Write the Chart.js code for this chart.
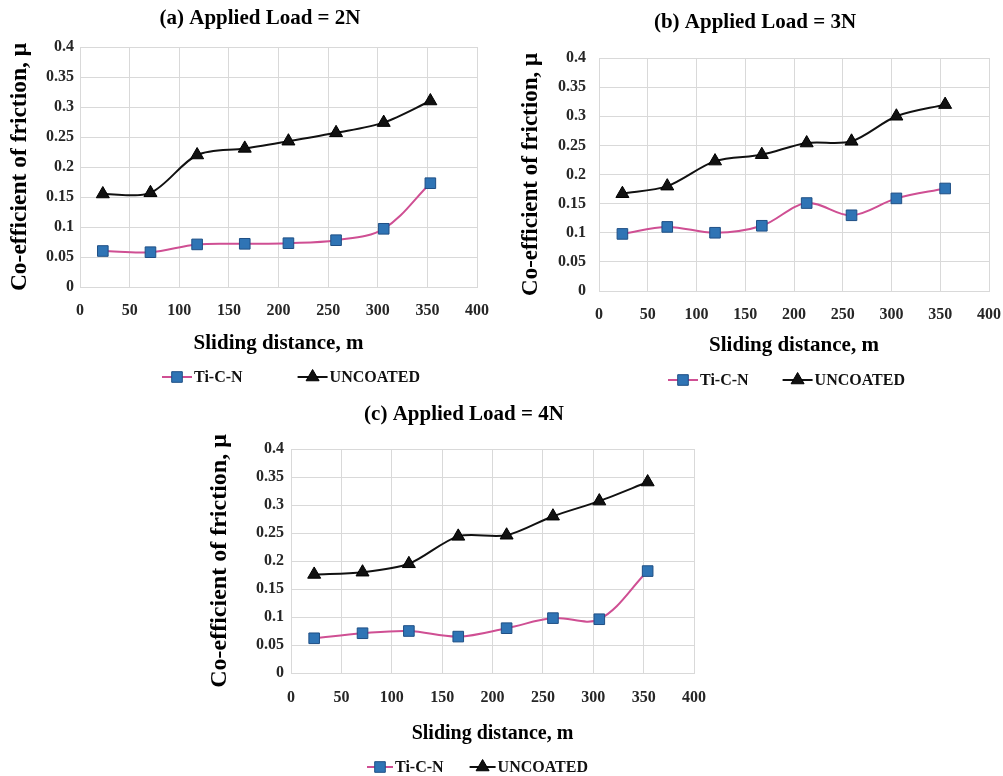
<!DOCTYPE html>
<html>
<head>
<meta charset="utf-8">
<title>Co-efficient of friction vs sliding distance</title>
<script src="https://cdn.jsdelivr.net/npm/chart.js@4/dist/chart.umd.min.js"></script>
<style>
  html, body { margin: 0; padding: 0; background: #fff; }
  body { position: relative; width: 1003px; height: 776px; overflow: hidden; }
  canvas { position: absolute; }
</style>
</head>
<body>
<canvas id="chartA" width="490" height="390" style="left:0;top:0"></canvas>
<canvas id="chartB" width="503" height="390" style="left:500px;top:0"></canvas>
<canvas id="chartC" width="550" height="386" style="left:190px;top:390px"></canvas>

<script>
// ---- data ----
const distA = [23, 71, 118, 166, 210, 258, 306, 353];
const ticnA = [0.060, 0.058, 0.071, 0.072, 0.073, 0.078, 0.097, 0.173];
const uncoatedA = [0.155, 0.157, 0.220, 0.231, 0.243, 0.257, 0.274, 0.310];

const distB = [24, 70, 119, 167, 213, 259, 305, 355];
const ticnB = [0.098, 0.110, 0.100, 0.112, 0.151, 0.130, 0.159, 0.176];
const uncoatedB = [0.167, 0.180, 0.223, 0.234, 0.254, 0.257, 0.300, 0.320];

const distC = [23, 71, 117, 166, 214, 260, 306, 354];
const ticnC = [0.062, 0.071, 0.075, 0.065, 0.080, 0.098, 0.096, 0.182];
const uncoatedC = [0.176, 0.180, 0.195, 0.244, 0.246, 0.280, 0.307, 0.341];

const xTickLabels = ['0', '50', '100', '150', '200', '250', '300', '350', '400'];
const yTickLabels = ['0', '0.05', '0.1', '0.15', '0.2', '0.25', '0.3', '0.35', '0.4'];

const seriesNames = ['Ti-C-N', 'UNCOATED'];
const titles = ['(a) Applied Load = 2N', '(b) Applied Load = 3N', '(c) Applied Load = 4N'];

const FONT = '"Liberation Serif", "Times New Roman", serif';
const GRID = '#d9d9d9';
const TICK = '#262626';

// panel heading, drawn where the original places it (not centred on the canvas)
const panelTitle = {
  id: 'panelTitle',
  afterDraw(chart, args, opts) {
    const { ctx } = chart;
    ctx.save();
    ctx.font = 'bold 21px ' + FONT;
    ctx.fillStyle = '#000';
    ctx.textAlign = 'center';
    ctx.textBaseline = 'middle';
    ctx.fillText(opts.text, opts.x, opts.y);
    ctx.restore();
  }
};

// legend drawn below the axis title: short line with the marker on it, then the name
const lineLegend = {
  id: 'lineLegend',
  afterDraw(chart, args, opts) {
    const { ctx, chartArea } = chart;
    const y = chartArea.bottom + opts.offsetY;
    let x = opts.startX;
    ctx.save();
    ctx.font = 'bold 16px ' + FONT;
    ctx.textBaseline = 'middle';
    ctx.textAlign = 'left';
    chart.data.datasets.forEach(ds => {
      const len = opts.lineLen;
      ctx.strokeStyle = ds.borderColor;
      ctx.lineWidth = ds.borderWidth;
      ctx.beginPath();
      ctx.moveTo(x, y);
      ctx.lineTo(x + len, y);
      ctx.stroke();

      const cx = x + len / 2;
      const r = ds.pointRadius;
      ctx.fillStyle = ds.pointBackgroundColor;
      ctx.strokeStyle = ds.pointBorderColor;
      ctx.lineWidth = 1;
      ctx.beginPath();
      if (ds.pointStyle === 'rect') {
        const s = r * Math.SQRT1_2;
        ctx.rect(cx - s, y - s, 2 * s, 2 * s);
      } else {
        ctx.moveTo(cx, y - r);
        ctx.lineTo(cx + r * 0.866, y + r * 0.5);
        ctx.lineTo(cx - r * 0.866, y + r * 0.5);
        ctx.closePath();
      }
      ctx.fill();
      ctx.stroke();

      ctx.fillStyle = '#111';
      ctx.fillText(ds.label, x + len + 2, y + 1);
      x += len + 2 + ctx.measureText(ds.label).width + opts.gap;
    });
    ctx.restore();
  }
};

function makeChart(id, title, dist, ticn, uncoated, L) {
  const ctx = document.getElementById(id);
  return new Chart(ctx, {
    type: 'line',
    data: {
      datasets: [{
        label: seriesNames[0],
        data: dist.map((d, i) => ({ x: d, y: ticn[i] })),
        borderColor: '#cf4f93',
        borderWidth: 2,
        pointStyle: 'rect',
        pointRadius: 7.5,
        pointHoverRadius: 7.5,
        pointBackgroundColor: '#2f74b5',
        pointBorderColor: '#1f4f85',
        pointBorderWidth: 1,
        tension: 0.35
      }, {
        label: seriesNames[1],
        data: dist.map((d, i) => ({ x: d, y: uncoated[i] })),
        borderColor: '#111111',
        borderWidth: 2,
        pointStyle: 'triangle',
        pointRadius: 7.5,
        pointHoverRadius: 7.5,
        pointBackgroundColor: '#111111',
        pointBorderColor: '#000000',
        pointBorderWidth: 1,
        tension: 0.3
      }]
    },
    options: {
      responsive: false,
      animation: false,
      layout: { padding: L.padding },
      plugins: {
        legend: { display: false },
        tooltip: { enabled: false },
        title: { display: false },
        panelTitle: { text: title, x: L.titleX, y: L.titleY },
        lineLegend: L.legend
      },
      scales: {
        x: {
          type: 'linear',
          min: 0, max: 400,
          ticks: {
            stepSize: 50,
            padding: L.xTickPad,
            color: TICK,
            font: { family: FONT, size: 16, weight: 'bold' },
            callback: (v, i) => xTickLabels[i]
          },
          grid: { color: GRID, drawTicks: false },
          border: { color: GRID },
          title: {
            display: true,
            text: 'Sliding distance, m',
            color: '#000',
            font: { family: FONT, size: L.xTitleSize, weight: 'bold' },
            padding: { top: 0, bottom: L.xTitlePad }
          },
          afterFit: s => {
            s.height = L.xHeight;
            s.paddingLeft = 0;
            s.paddingRight = 0;
          }
        },
        y: {
          min: 0, max: 0.4,
          ticks: {
            stepSize: 0.05,
            padding: L.yTickPad,
            color: TICK,
            font: { family: FONT, size: 16, weight: 'bold' },
            callback: (v, i) => yTickLabels[i]
          },
          grid: { color: GRID, drawTicks: false },
          border: { color: GRID },
          title: {
            display: true,
            text: 'Co-efficient of friction, μ',
            color: '#000',
            font: { family: FONT, size: L.yTitleSize, weight: 'bold' },
            padding: { top: L.yTitlePad, bottom: 0 }
          },
          afterFit: s => {
            s.width = L.yWidth;
            s.paddingTop = 0;
            s.paddingBottom = 0;
          }
        }
      }
    },
    plugins: [panelTitle, lineLegend]
  });
}

makeChart('chartA', titles[0], distA, ticnA, uncoatedA, {
  padding: { left: 0, right: 13, top: 47, bottom: 33 },
  titleX: 260, titleY: 19,
  xTickPad: 14, xHeight: 70, xTitlePad: 1, xTitleSize: 21,
  yTickPad: 6, yWidth: 80, yTitlePad: 6, yTitleSize: 23.5,
  legend: { offsetY: 90, startX: 162, lineLen: 30, gap: 55 }
});

makeChart('chartB', titles[1], distB, ticnB, uncoatedB, {
  padding: { left: 0, right: 14, top: 58, bottom: 29 },
  titleX: 255, titleY: 23,
  xTickPad: 14, xHeight: 70, xTitlePad: 3, xTitleSize: 21,
  yTickPad: 13, yWidth: 99, yTitlePad: 17, yTitleSize: 23,
  legend: { offsetY: 89, startX: 168, lineLen: 30, gap: 34 }
});

makeChart('chartC', titles[2], distC, ticnC, uncoatedC, {
  padding: { left: 0, right: 46, top: 59, bottom: 30 },
  titleX: 274, titleY: 25,
  xTickPad: 15, xHeight: 73, xTitlePad: 0, xTitleSize: 20,
  yTickPad: 7, yWidth: 101, yTitlePad: 15, yTitleSize: 24,
  legend: { offsetY: 94, startX: 177, lineLen: 26, gap: 26 }
});
</script>
</body>
</html>
